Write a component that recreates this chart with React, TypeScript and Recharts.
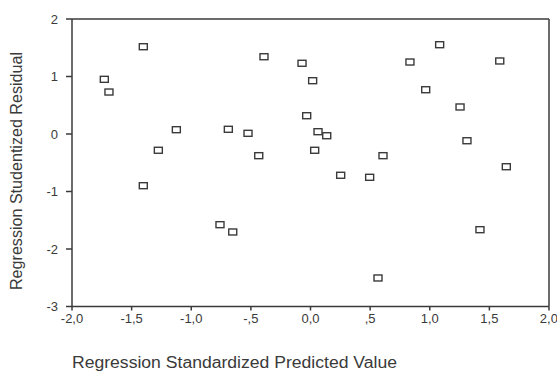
import React from 'react';
import { ScatterChart, Scatter, XAxis, YAxis, ReferenceLine, Label } from 'recharts';

const predicted = [
  -1.402, -0.39, -0.071, -1.729, -1.69, 0.018, -0.032, -1.125, -0.689, -0.524,
  -1.276, -0.434, -1.402, 1.083, 0.834, 1.587, 0.966, 1.254, 0.063, 0.136,
  0.035, 1.312, 0.608, 1.642, 0.253, 0.496, -0.759, -0.652, 1.421, 0.566,
];
const residual = [
  1.518, 1.344, 1.23, 0.951, 0.73, 0.927, 0.318, 0.075, 0.082, 0.012,
  -0.283, -0.377, -0.899, 1.553, 1.252, 1.27, 0.77, 0.47, 0.04, -0.03,
  -0.283, -0.117, -0.377, -0.569, -0.718, -0.753, -1.577, -1.704, -1.664, -2.504,
];
const xTicks = [-2, -1.5, -1, -0.5, 0, 0.5, 1, 1.5, 2];
const yTicks = [-3, -2, -1, 0, 1, 2];

const data = predicted.map((x, i) => ({ x, y: residual[i] }));

const INK = '#3a3a3a';
const FONT = '"Liberation Sans", Arial, sans-serif';

const fmtX = (v: number) => {
  if (v === 0) return '0,0';
  let s = v.toFixed(1).replace('.', ',');
  if (Math.abs(v) < 1) s = s.replace('0,', ',');
  return s;
};

const Square = (props: any) => {
  const { cx, cy } = props;
  if (cx == null || cy == null) return null;
  return <rect x={cx - 4} y={cy - 3} width={8} height={6} fill="#fff" stroke={INK} strokeWidth={1.4} />;
};

export default function App() {
  return (
    <div style={{ position: 'absolute', left: 0, top: 0, width: 557, height: 373, background: '#fff' }}>
      <ScatterChart width={557} height={373} margin={{ top: 19, right: 8, left: 0, bottom: 16.5 }}>
        <XAxis
          type="number"
          dataKey="x"
          domain={[-2, 2]}
          ticks={xTicks}
          tickFormatter={fmtX}
          height={50}
          tickSize={4}
          tickMargin={3}
          stroke={INK}
          strokeWidth={1.5}
          tick={{ fill: INK, fontSize: 13, fontFamily: FONT }}
          allowDataOverflow
        >
          <Label
            content={() => (
              <text
                x={72}
                y={368}
                fill={INK}
                fontSize={16}
                fontFamily={FONT}
                textLength={325}
                lengthAdjust="spacingAndGlyphs"
              >
                Regression Standardized Predicted Value
              </text>
            )}
          />
        </XAxis>
        <YAxis
          type="number"
          dataKey="y"
          domain={[-3, 2]}
          ticks={yTicks}
          width={72}
          tickSize={6}
          tickMargin={8}
          stroke={INK}
          strokeWidth={1.5}
          tick={{ fill: INK, fontSize: 13, fontFamily: FONT }}
          allowDataOverflow
        >
          <Label
            content={() => (
              <text
                x={0}
                y={0}
                transform="translate(22 171) rotate(-90)"
                textAnchor="middle"
                fill={INK}
                fontSize={16}
                fontFamily={FONT}
                textLength={238}
                lengthAdjust="spacingAndGlyphs"
              >
                Regression Studentized Residual
              </text>
            )}
          />
        </YAxis>
        <ReferenceLine y={2} stroke={INK} strokeWidth={1.5} ifOverflow="visible" />
        <ReferenceLine x={2} stroke={INK} strokeWidth={1.5} ifOverflow="visible" />
        <Scatter data={data} shape={<Square />} isAnimationActive={false} />
      </ScatterChart>
    </div>
  );
}
